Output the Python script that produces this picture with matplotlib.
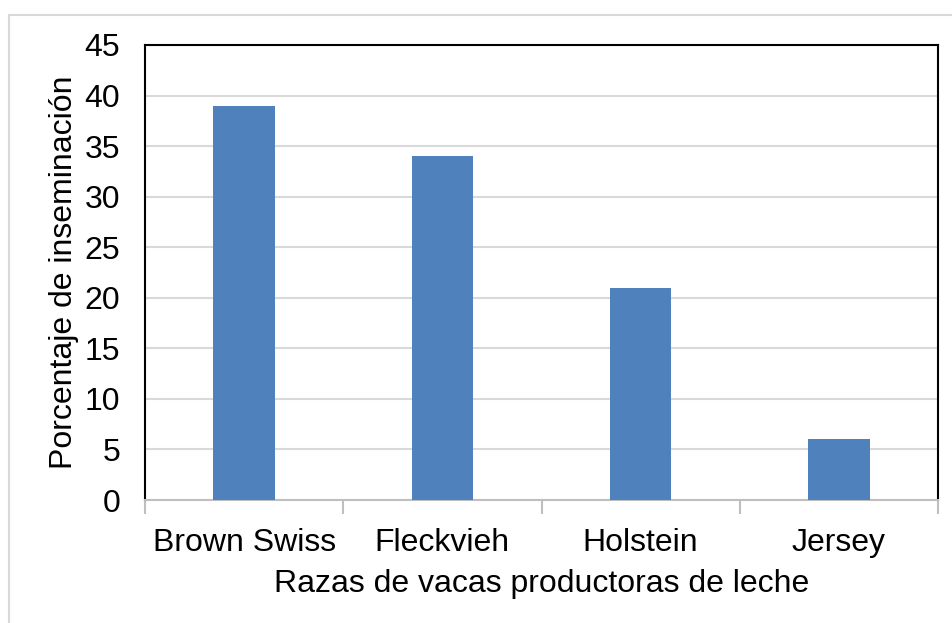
import matplotlib
matplotlib.use("Agg")
import matplotlib.pyplot as plt
from matplotlib.patches import Rectangle

razas = ["Brown Swiss", "Fleckvieh", "Holstein", "Jersey"]
porcentaje = [39, 34, 21, 6]
yticks = [0, 5, 10, 15, 20, 25, 30, 35, 40, 45]

plt.rcParams['font.family'] = ['Liberation Sans', 'DejaVu Sans']
fs = 23

fig = plt.figure(figsize=(9.52, 6.23), dpi=100)
ax = fig.add_axes([145/952, 1 - 500/623, (938 - 145)/952, (500 - 45)/623])

x = list(range(len(razas)))
ax.bar(x, porcentaje, width=0.31, color='#4f81bd', zorder=3)

ax.set_xlim(-0.5, len(razas) - 0.5)
ax.set_ylim(0, 45)
ax.set_yticks(yticks)
ax.set_yticklabels([str(v) for v in yticks], fontsize=fs)
ax.yaxis.grid(True, color='#d9d9d9', linewidth=1.5, zorder=0)
ax.tick_params(axis='y', length=0, pad=18)

# category labels in the middle, tick marks at the boundaries
ax.set_xticks(x)
ax.set_xticklabels(razas, fontsize=fs)
ax.tick_params(axis='x', which='major', length=0, pad=20)
ax.set_xticks([i - 0.5 for i in range(len(razas) + 1)], minor=True)
ax.tick_params(axis='x', which='minor', length=10, color='#bfbfbf', width=1.5)

for s in ['left', 'top', 'right']:
    ax.spines[s].set_color('black')
    ax.spines[s].set_linewidth(1.5)
ax.spines['bottom'].set_color('#bfbfbf')
ax.spines['bottom'].set_linewidth(1.5)

ax.set_ylabel("Porcentaje de inseminación", fontsize=fs, labelpad=4)
ax.set_xlabel("Razas de vacas productoras de leche", fontsize=fs, labelpad=8)

# light frame around the chart
fig.patches.append(Rectangle((9/952, -0.1), 1.5, 1 - 15/623 + 0.1,
                             transform=fig.transFigure, fill=False,
                             edgecolor='#d9d9d9', linewidth=1.5))

fig.savefig("out.png", dpi=100)
